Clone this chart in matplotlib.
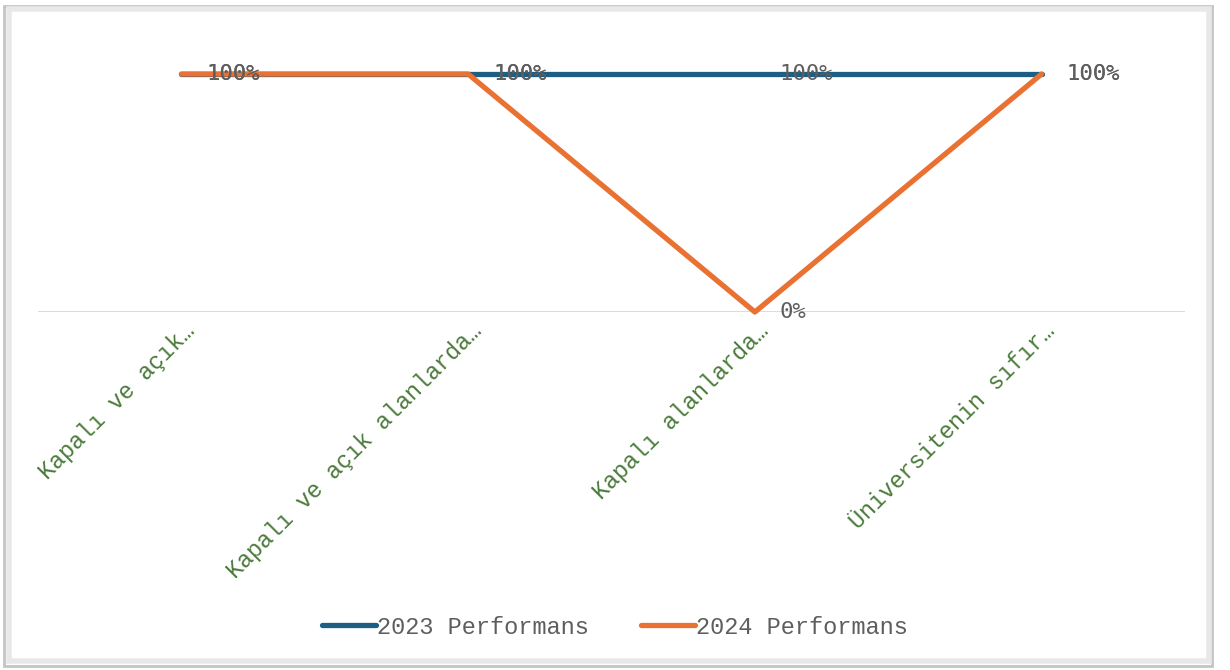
""" Performans line chart
"""

import matplotlib
matplotlib.use('Agg')
import matplotlib.pyplot as plt
from matplotlib.patches import Rectangle
from matplotlib.transforms import ScaledTranslation

categories = ['Kapalı ve açık…',
              'Kapalı ve açık alanlarda…',
              'Kapalı alanlarda…',
              'Üniversitenin sıfır…']
perf_2023 = [1.0, 1.0, 1.0, 1.0]
perf_2024 = [1.0, 1.0, 0.0, 1.0]
series_names = ['2023 Performans', '2024 Performans']

blue = '#1D5F84'
orange = '#E97132'
label_gray = '#5E5E5E'
cat_green = '#4A7A3A'

fig = plt.figure(figsize=(12.3, 6.7), dpi=100)
ax = fig.add_axes([38 / 1230, 1 - 312 / 670, (1185 - 38) / 1230, 238 / 670])

x = list(range(len(categories)))
ax.plot(x, perf_2023, color=blue, lw=3.8, solid_capstyle='round',
        label=series_names[0], clip_on=False, zorder=3)
ax.plot(x, perf_2024, color=orange, lw=3.8, solid_capstyle='round',
        label=series_names[1], clip_on=False, zorder=4)

# data labels to the right of each point
for vals in (perf_2023, perf_2024):
    for xi, v in zip(x, vals):
        ax.annotate(f'{v:.0%}', (xi, v), xytext=(18, 0), textcoords='offset points',
                    ha='left', va='center', fontsize=16, color=label_gray,
                    family='DejaVu Sans Mono', zorder=5)

ax.set_xlim(-0.5, len(categories) - 0.5)
ax.set_ylim(0, 1)
ax.axhline(0, color='#D9D9D9', lw=1.3, zorder=1)
for s in ax.spines.values():
    s.set_visible(False)
ax.set_yticks([])
ax.set_xticks(x)
ax.set_xticklabels(categories, rotation=45, ha='right', va='center',
                   rotation_mode='anchor', fontsize=16.8, color=cat_green,
                   family='Liberation Mono')
ax.tick_params(axis='x', length=0, pad=11)
for lbl in ax.get_xticklabels():
    lbl.set_transform(lbl.get_transform() + ScaledTranslation(0.10, 0, fig.dpi_scale_trans))

leg = fig.legend(loc='center', bbox_to_anchor=(0.5, 1 - 627 / 670), ncol=2, frameon=False,
                 prop={'family': 'Liberation Mono', 'size': 17}, handlelength=2.3,
                 handletextpad=0.05, columnspacing=2.2)
for t in leg.get_texts():
    t.set_color(label_gray)

# chart frame with soft double border
fig.patches.append(Rectangle((4 / 1230, 4 / 670), 1208 / 1230, 660 / 670, transform=fig.transFigure,
                             fill=False, edgecolor='#C4C4C4', lw=2))
fig.patches.append(Rectangle((9 / 1230, 9 / 670), 1200 / 1230, 652 / 670, transform=fig.transFigure,
                             fill=False, edgecolor='#E8E8E8', lw=4))

plt.savefig('out.png', dpi=100)
